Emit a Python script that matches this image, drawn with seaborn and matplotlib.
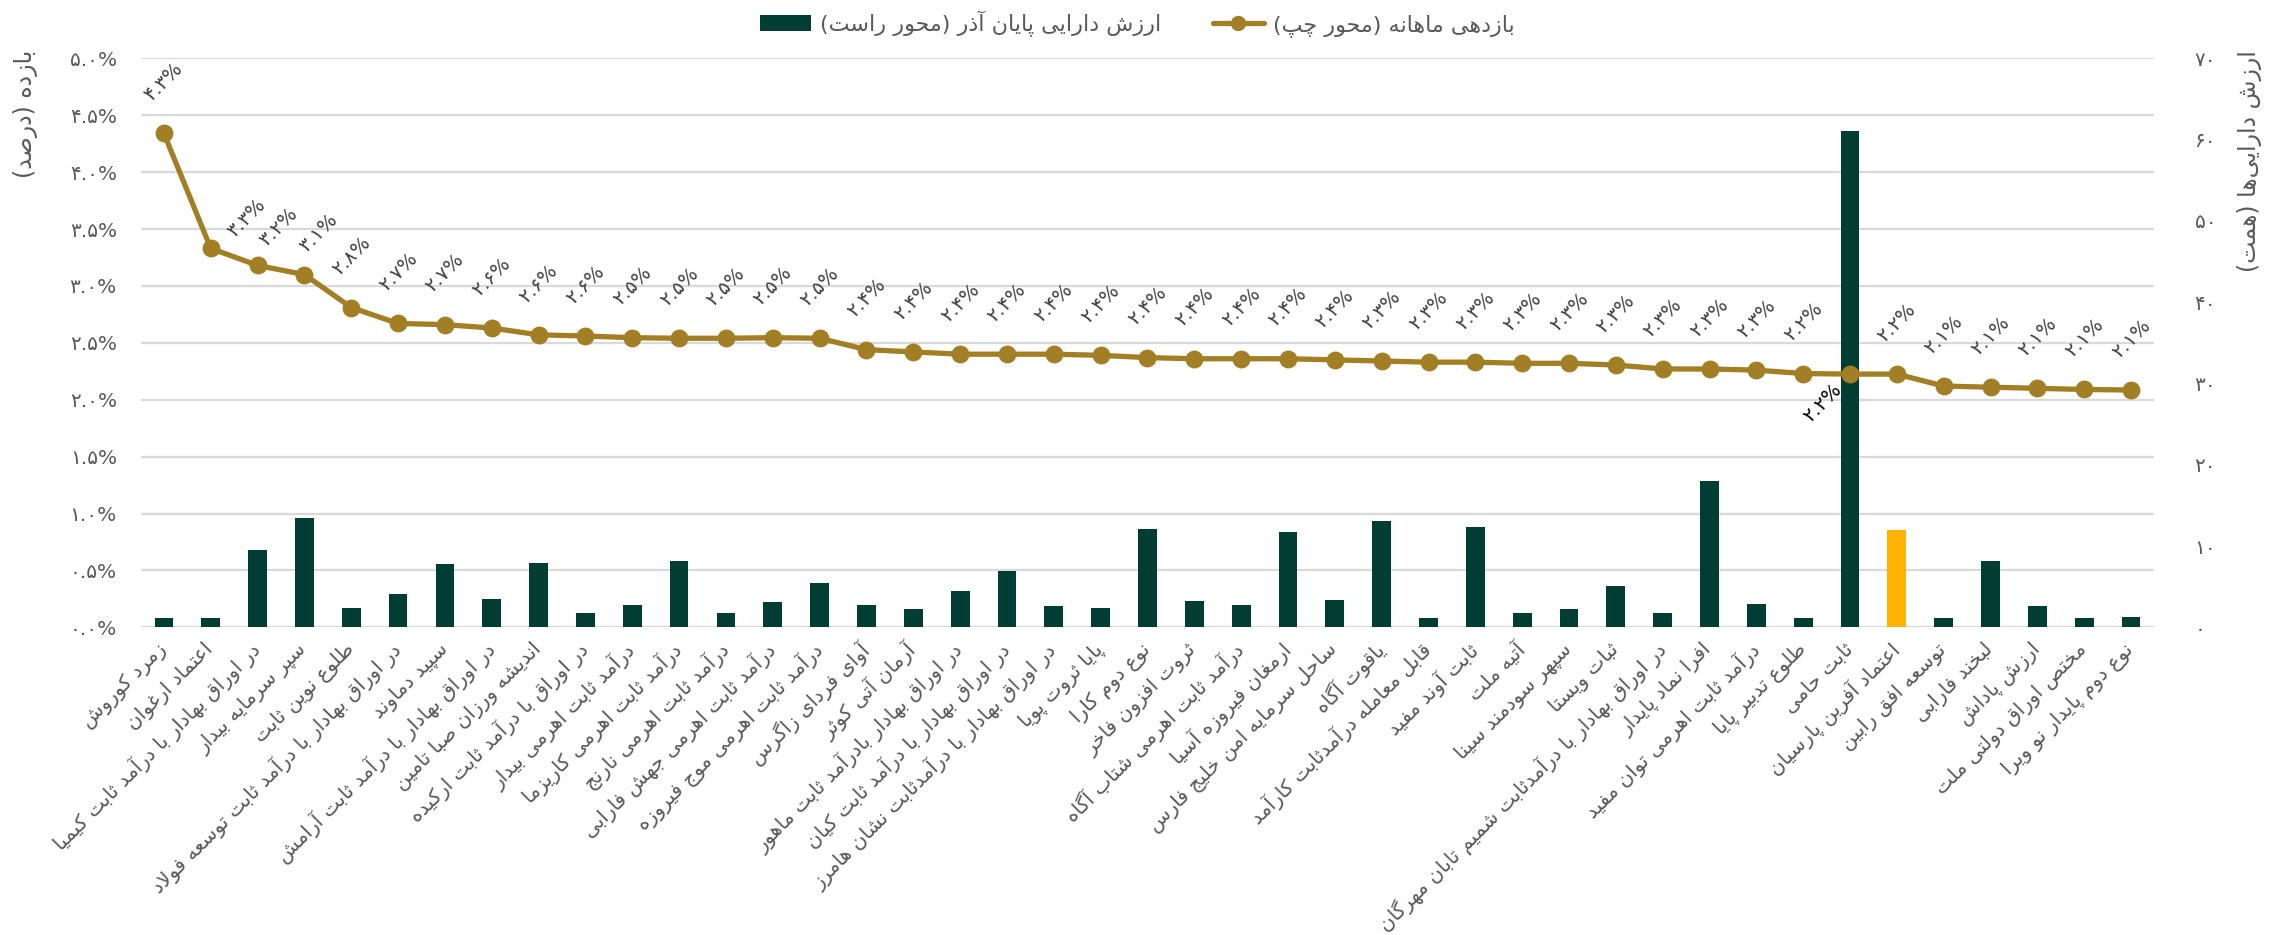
import unicodedata
import numpy as np
import pandas as pd
import matplotlib
matplotlib.use("Agg")
import matplotlib.pyplot as plt
import seaborn as sns
from matplotlib.patches import Patch
from matplotlib.lines import Line2D

# ---------------- data ----------------
funds = [
    "زمرد کوروش",
    "اعتماد ارغوان",
    "در اوراق بهادار با درآمد ثابت کیمیا",
    "سپر سرمایه بیدار",
    "طلوع نوین ثابت",
    "در اوراق بهادار با درآمد ثابت توسعه فولاد",
    "سپید دماوند",
    "در اوراق بهادار با درآمد ثابت آرامش",
    "اندیشه ورزان صبا تامین",
    "در اوراق با درآمد ثابت ارکیده",
    "درآمد ثابت اهرمی بیدار",
    "درآمد ثابت اهرمی کاریزما",
    "درآمد ثابت اهرمی نارنج",
    "درآمد ثابت اهرمی جهش فارابی",
    "درآمد ثابت اهرمی موج فیروزه",
    "آوای فردای زاگرس",
    "آرمان آتی کوثر",
    "در اوراق بهادار بادرآمد ثابت ماهور",
    "در اوراق بهادار با درآمد ثابت کیان",
    "در اوراق بهادار با درآمدثابت نشان هامرز",
    "پایا ثروت پویا",
    "نوع دوم کارا",
    "ثروت افزون فاخر",
    "درآمد ثابت اهرمی شتاب آگاه",
    "ارمغان فیروزه آسیا",
    "ساحل سرمایه امن خلیج فارس",
    "یاقوت آگاه",
    "قابل معامله درآمدثابت کارآمد",
    "ثابت آوند مفید",
    "آتیه ملت",
    "سپهر سودمند سینا",
    "ثبات ویستا",
    "در اوراق بهادار با درآمدثابت شمیم تابان مهرگان",
    "افرا نماد پایدار",
    "درآمد ثابت اهرمی توان مفید",
    "طلوع تدبیر پایا",
    "ثابت حامی",
    "اعتماد آفرین پارسیان",
    "توسعه افق رابین",
    "لبخند فارابی",
    "ارزش پاداش",
    "مختص اوراق دولتی ملت",
    "نوع دوم پایدار نو ویرا",
]

# monthly return (%), left axis
monthly_return = [4.34, 3.33, 3.18, 3.10, 2.81, 2.67, 2.66, 2.63, 2.57, 2.56,
                  2.545, 2.54, 2.54, 2.545, 2.54, 2.44, 2.42, 2.40, 2.40, 2.40,
                  2.39, 2.37, 2.36, 2.36, 2.36, 2.35, 2.34, 2.33, 2.33, 2.32,
                  2.32, 2.305, 2.27, 2.27, 2.26, 2.23, 2.225, 2.225, 2.12, 2.11,
                  2.10, 2.09, 2.085]

# asset value at end of Azar (thousand billion toman), right axis
assets = [1.1, 1.1, 9.5, 13.5, 2.4, 4.1, 7.8, 3.5, 7.95, 1.7,
          2.7, 8.2, 1.8, 3.1, 5.5, 2.8, 2.25, 4.5, 6.9, 2.6,
          2.4, 12.1, 3.2, 2.7, 11.7, 3.3, 13.1, 1.1, 12.3, 1.8,
          2.25, 5.1, 1.7, 18.0, 2.9, 1.2, 61.0, 12.0, 1.2, 8.1,
          2.6, 1.1, 1.3]

highlight = "اعتماد آفرین پارسیان"
left_ticks = [0.0, 0.5, 1.0, 1.5, 2.0, 2.5, 3.0, 3.5, 4.0, 4.5, 5.0]
right_ticks = [0, 10, 20, 30, 40, 50, 60, 70]
legend_labels = ["ارزش دارایی پایان آذر (محور راست)", "بازدهی ماهانه (محور چپ)"]
ylabel_left = "بازده (درصد)"
ylabel_right = "ارزش دارایی‌ها (همت)"

# ---------------- styles ----------------
GREEN = "#023D33"
YELLOW = "#FFB300"
GOLD = "#A27E24"
GRID = "#D9D9D9"
TXT = "#595959"
LBL = "#404040"

# ---------------- Persian shaping helpers ----------------
_FORMS = {
    "\u0622": ("\uFE81", "\uFE82", None, None),
    "\u0623": ("\uFE83", "\uFE84", None, None),
    "\u0624": ("\uFE85", "\uFE86", None, None),
    "\u0625": ("\uFE87", "\uFE88", None, None),
    "\u0626": ("\uFE89", "\uFE8A", "\uFE8B", "\uFE8C"),
    "\u0627": ("\uFE8D", "\uFE8E", None, None),
    "\u0628": ("\uFE8F", "\uFE90", "\uFE91", "\uFE92"),
    "\u0629": ("\uFE93", "\uFE94", None, None),
    "\u062A": ("\uFE95", "\uFE96", "\uFE97", "\uFE98"),
    "\u062B": ("\uFE99", "\uFE9A", "\uFE9B", "\uFE9C"),
    "\u062C": ("\uFE9D", "\uFE9E", "\uFE9F", "\uFEA0"),
    "\u062D": ("\uFEA1", "\uFEA2", "\uFEA3", "\uFEA4"),
    "\u062E": ("\uFEA5", "\uFEA6", "\uFEA7", "\uFEA8"),
    "\u062F": ("\uFEA9", "\uFEAA", None, None),
    "\u0630": ("\uFEAB", "\uFEAC", None, None),
    "\u0631": ("\uFEAD", "\uFEAE", None, None),
    "\u0632": ("\uFEAF", "\uFEB0", None, None),
    "\u0633": ("\uFEB1", "\uFEB2", "\uFEB3", "\uFEB4"),
    "\u0634": ("\uFEB5", "\uFEB6", "\uFEB7", "\uFEB8"),
    "\u0635": ("\uFEB9", "\uFEBA", "\uFEBB", "\uFEBC"),
    "\u0636": ("\uFEBD", "\uFEBE", "\uFEBF", "\uFEC0"),
    "\u0637": ("\uFEC1", "\uFEC2", "\uFEC3", "\uFEC4"),
    "\u0638": ("\uFEC5", "\uFEC6", "\uFEC7", "\uFEC8"),
    "\u0639": ("\uFEC9", "\uFECA", "\uFECB", "\uFECC"),
    "\u063A": ("\uFECD", "\uFECE", "\uFECF", "\uFED0"),
    "\u0641": ("\uFED1", "\uFED2", "\uFED3", "\uFED4"),
    "\u0642": ("\uFED5", "\uFED6", "\uFED7", "\uFED8"),
    "\u0643": ("\uFED9", "\uFEDA", "\uFEDB", "\uFEDC"),
    "\u0644": ("\uFEDD", "\uFEDE", "\uFEDF", "\uFEE0"),
    "\u0645": ("\uFEE1", "\uFEE2", "\uFEE3", "\uFEE4"),
    "\u0646": ("\uFEE5", "\uFEE6", "\uFEE7", "\uFEE8"),
    "\u0647": ("\uFEE9", "\uFEEA", "\uFEEB", "\uFEEC"),
    "\u0648": ("\uFEED", "\uFEEE", None, None),
    "\u0649": ("\uFEEF", "\uFEF0", None, None),
    "\u064A": ("\uFEF1", "\uFEF2", "\uFEF3", "\uFEF4"),
    "\u067E": ("\uFB56", "\uFB57", "\uFB58", "\uFB59"),
    "\u0686": ("\uFB7A", "\uFB7B", "\uFB7C", "\uFB7D"),
    "\u0698": ("\uFB8A", "\uFB8B", None, None),
    "\u06A9": ("\uFB8E", "\uFB8F", "\uFB90", "\uFB91"),
    "\u06AF": ("\uFB92", "\uFB93", "\uFB94", "\uFB95"),
    "\u06CC": ("\uFBFC", "\uFBFD", "\uFBFE", "\uFBFF"),
}
_LAM_ALEF = {"\u0622": ("\uFEF5", "\uFEF6"), "\u0623": ("\uFEF7", "\uFEF8"),
             "\u0625": ("\uFEF9", "\uFEFA"), "\u0627": ("\uFEFB", "\uFEFC")}


def _joins_next(c):
    f = _FORMS.get(c)
    return f is not None and f[2] is not None


def fa(text):
    """Shape Persian text into presentation forms and put it in visual order."""
    text = unicodedata.normalize("NFC", text)
    out = []
    i, n = 0, len(text)
    while i < n:
        c = text[i]
        if c not in _FORMS:
            if c != "\u200c":
                out.append(c)
            i += 1
            continue
        prev = text[i - 1] if i > 0 else ""
        jp = _joins_next(prev)
        if c == "\u0644" and i + 1 < n and text[i + 1] in _LAM_ALEF:
            iso, fin = _LAM_ALEF[text[i + 1]]
            out.append(fin if jp else iso)
            i += 2
            continue
        nxt = text[i + 1] if i + 1 < n else ""
        jn = _joins_next(c) and nxt in _FORMS
        iso, fin, ini, med = _FORMS[c]
        out.append(med if (jp and jn) else fin if jp else ini if jn else iso)
        i += 1
    vis = "".join(reversed(out))
    return vis.translate(str.maketrans("()", ")("))


def fa_num(s):
    return s.translate(str.maketrans("0123456789", "۰۱۲۳۴۵۶۷۸۹"))


# ---------------- plot ----------------
sns.set_theme(style="white")
plt.rcParams["font.family"] = ["DejaVu Sans"]

df = pd.DataFrame({"fund": funds, "ret": monthly_return, "aum": assets})
n = len(funds)
bar_colors = [YELLOW if f == highlight else GREEN for f in funds]

fig = plt.figure(figsize=(22.7, 9.35), dpi=100)
ax = fig.add_axes([0.0619, 0.3291, 0.8872, 0.6085])
ax2 = ax.twinx()
ax.set_zorder(2)
ax2.set_zorder(1)
ax.patch.set_visible(False)

sns.barplot(data=df, x="fund", y="aum", hue="fund", order=funds, hue_order=funds,
            palette=bar_colors, legend=False, width=0.4, saturation=1,
            linewidth=0, ax=ax2)
sns.pointplot(data=df, x="fund", y="ret", order=funds, color=GOLD,
              markers="o", linestyles="-", errorbar=None, ax=ax,
              markersize=10, linewidth=3.8)

ax.set_xlim(-0.5, n - 0.5)
ax.set_ylim(0, 5)
ax2.set_ylim(0, 70)

# gridlines (aligned with left-axis ticks) drawn behind the bars
ax.grid(False)
ax2.grid(False)
ax2.yaxis.remove_overlapping_locs = False
ax2.set_yticks(np.linspace(0, 70, len(left_ticks)), minor=True)
ax2.grid(True, which="minor", axis="y", color=GRID, linewidth=1.6)
ax2.set_axisbelow(True)

ax.set_yticks(left_ticks)
ax.set_yticklabels([fa_num(f"{t:.1f}%") for t in left_ticks])
ax2.set_yticks(right_ticks)
ax2.set_yticklabels([fa_num(str(t)) for t in right_ticks])

ax.tick_params(axis="y", which="both", length=0, pad=17, labelsize=14.5, labelcolor=TXT)
ax2.tick_params(axis="y", which="both", length=0, pad=29, labelsize=14.5, labelcolor=TXT)
ax.tick_params(axis="x", length=0, pad=14)

ax.set_xticks(range(n))
ax.set_xticklabels([fa(f) for f in funds], rotation=45, ha="right", va="center",
                   rotation_mode="anchor", fontsize=14.5, color=TXT)
ax.set_xlabel("")
ax2.set_xlabel("")

for a in (ax, ax2):
    for s in a.spines.values():
        s.set_visible(False)

ax.set_ylabel(fa(ylabel_left), loc="top", fontsize=17, color=TXT)
ax.yaxis.set_label_coords(-0.051, 1.015)
ax2.set_ylabel(fa(ylabel_right), loc="top", fontsize=17, color=TXT)
ax2.yaxis.set_label_coords(1.041, 1.015)

# data labels
label_offsets = {1: (26, 22), 2: (15, 28), 3: (10, 30), 36: (-20, -21)}
for i, v in enumerate(monthly_return):
    dx, dy = label_offsets.get(i, (0, 37))
    ax.annotate(fa_num(f"{v:.1f}%"), xy=(i, v), xytext=(dx, dy),
                textcoords="offset points", rotation=45, ha="center", va="center",
                fontsize=14, color="#000000" if i == 36 else LBL, zorder=5)

# legend
handles = [Patch(facecolor=GREEN, edgecolor="none"),
           Line2D([], [], color=GOLD, linewidth=3.8, marker="o", markersize=10)]
fig.legend(handles, [fa(t) for t in legend_labels], loc="center",
           bbox_to_anchor=(0.501, 0.975), ncol=2, frameon=False, fontsize=16,
           labelcolor=TXT, handlelength=2.3, handletextpad=0.4, columnspacing=2.3)

fig.savefig("out.png", dpi=100)
